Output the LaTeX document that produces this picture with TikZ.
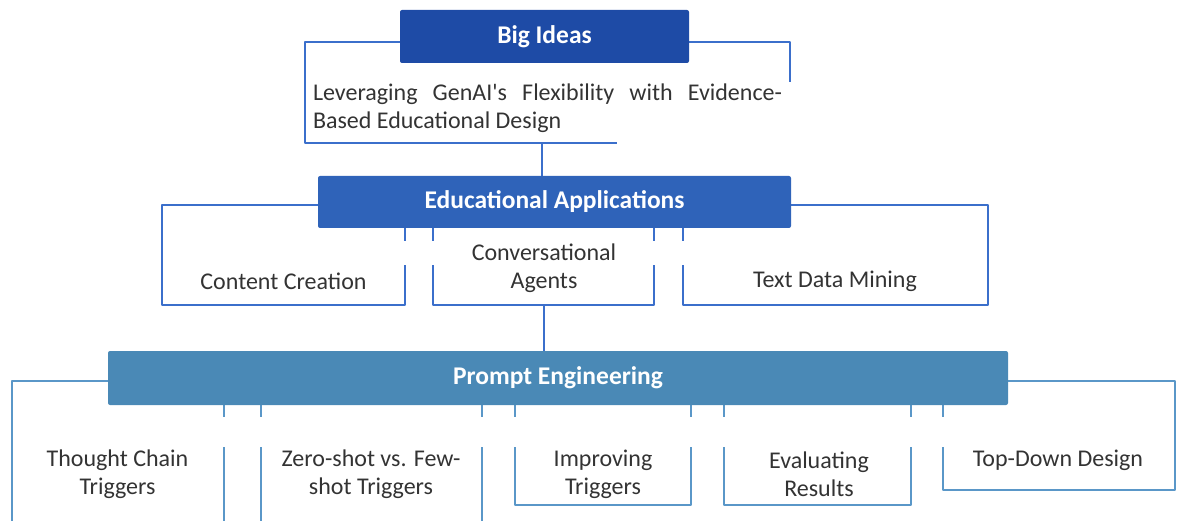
\documentclass[tikz,border=0pt]{standalone}
\usepackage{fontspec}
\setmainfont{Carlito}
\usetikzlibrary{backgrounds}

\definecolor{bigfill}{HTML}{1E4BA6}
\definecolor{edufill}{HTML}{2F63B9}
\definecolor{promptfill}{HTML}{4A89B6}
\definecolor{bigedge}{HTML}{3B6FCB}
\definecolor{promptedge}{HTML}{5A97C8}
\definecolor{labeltext}{HTML}{333333}

\begin{document}
\begin{tikzpicture}[x=1pt, y=-1pt, font=\fontsize{24}{28}\selectfont, header/.style={rectangle, rounded corners=2pt, text=white, font=\fontsize{25.5}{28}\selectfont\bfseries, inner sep=0pt}, leaf/.style={text=labeltext, align=center, inner sep=0pt}, blue frame/.style={draw=bigedge, line width=2.6pt, line join=round}, light frame/.style={draw=promptedge, line width=2.6pt, line join=round}]

    \useasboundingbox (0,0) rectangle (1182,521);

    % =========================================================================
    % NIVEL 1: Big Ideas
    % =========================================================================
    \node[header, fill=bigfill, minimum width=289pt, minimum height=53pt] (big) at (544.5, 36.5) {Big Ideas};
    \node[text=labeltext, text width=469pt, align=justify, inner sep=0pt] (bigtext) at (547.5, 108) {Leveraging GenAI\textquotesingle s Flexibility with Evidence-\linebreak Based Educational Design};

    \coordinate (bigdrop) at (542, 143);

    \begin{scope}[on background layer]
        \draw[blue frame] ([yshift=-5.5pt]big.west) -- (305, 42) -- (305, 143) -- (617, 143);
        \draw[blue frame] ([yshift=-5.5pt]big.east) -- (790, 42) -- (790, 82);
    \end{scope}

    % =========================================================================
    % NIVEL 2: Educational Applications
    % =========================================================================
    \node[header, fill=edufill, minimum width=473pt, minimum height=52pt] (edu) at (554.5, 202) {Educational Applications};

    \node[leaf] (content) at (283.5, 281) {Content Creation};
    \node[leaf] (agents) at (544, 268) {Conversational\\Agents};
    \node[leaf] (mining) at (835, 281) {Text Data Mining};

    \coordinate (edudrop) at (544, 305);

    \begin{scope}[on background layer]
        \draw[blue frame] (bigdrop) -- (bigdrop |- edu.north);
        % Marcos de las hojas
        \draw[blue frame] ([yshift=-3pt]edu.west) -- (162, 205) -- (162, 305) -- (405, 305) -- (405, 265);
        \draw[blue frame] (433, 265) -- (433, 305) -- (654, 305) -- (654, 265);
        \draw[blue frame] (683, 265) -- (683, 305) -- (988, 305) -- (988, 205) -- ([yshift=-3pt]edu.east);
        % Marcas cortas bajo la cabecera
        \foreach \tx in {405, 433, 654, 683}
            \draw[blue frame] (\tx, 226) -- (\tx, 241);
    \end{scope}

    % =========================================================================
    % NIVEL 3: Prompt Engineering
    % =========================================================================
    \node[header, fill=promptfill, minimum width=900pt, minimum height=54pt] (prompt) at (558, 378) {Prompt Engineering};

    \node[leaf] (chain) at (117.5, 474) {Thought Chain\\Triggers};
    \node[leaf] (fewshot) at (371, 474) {Zero-shot vs. Few-\\shot Triggers};
    \node[leaf] (improving) at (603, 474) {Improving\\Triggers};
    \node[leaf] (evaluating) at (819, 474) {Evaluating\\Results};
    \node[leaf] (topdown) at (1058, 460) {Top-Down Design};

    \begin{scope}[on background layer]
        \draw[blue frame] (edudrop) -- (edudrop |- prompt.north);
        % Marcos de las hojas
        \draw[light frame] ([yshift=-3pt]prompt.west) -- (12, 381) -- (12, 521);
        \draw[light frame] (224, 447) -- (224, 521);
        \draw[light frame] (261, 447) -- (261, 521);
        \draw[light frame] (482, 447) -- (482, 521);
        \draw[light frame] (515, 447) -- (515, 505) -- (691, 505) -- (691, 447);
        \draw[light frame] (724, 447) -- (724, 505) -- (911, 505) -- (911, 447);
        \draw[light frame] (943, 447) -- (943, 490) -- (1175, 490) -- (1175, 381) -- ([yshift=-3pt]prompt.east);
        % Marcas cortas bajo la cabecera
        \foreach \tx in {224, 261, 482, 515, 691, 724, 911, 943}
            \draw[light frame] (\tx, 403) -- (\tx, 417);
    \end{scope}

\end{tikzpicture}
\end{document}
